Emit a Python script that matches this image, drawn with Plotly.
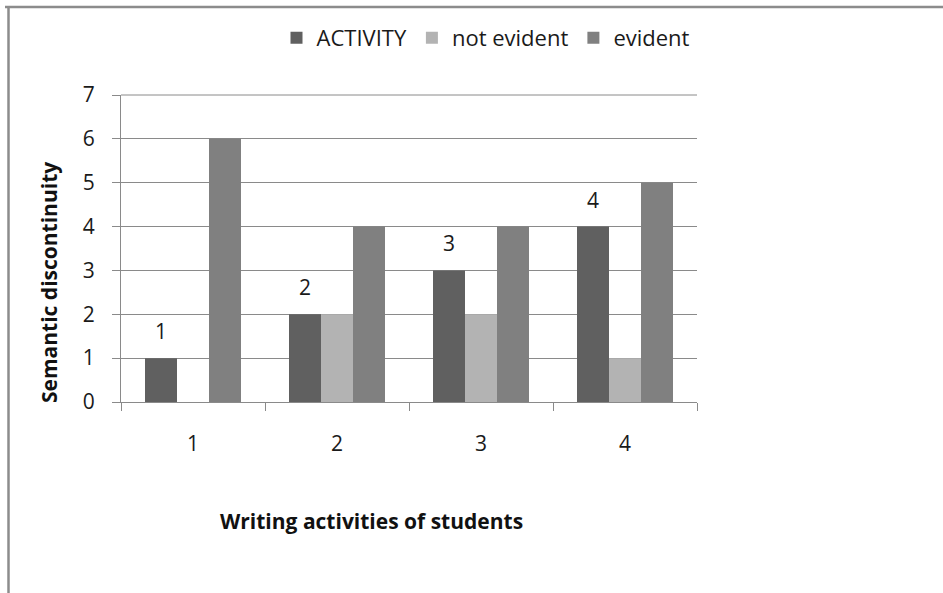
import plotly.graph_objects as go

# Writing activities and their semantic-discontinuity counts
categories = ["1", "2", "3", "4"]
activity = [1, 2, 3, 4]
not_evident = [0, 2, 2, 1]
evident = [6, 4, 4, 5]

series_names = ["ACTIVITY", "not evident", "evident"]
series_colors = ["#606060", "#b3b3b3", "#808080"]

W, H = 943, 593
L, R, T, B = 121, 246, 95, 191
plot_w = W - L - R
plot_h = H - T - B

FONT = "Open Sans, Lato, sans-serif"
GRID = "#8a8a8a"
TXT = "#1a1a1a"
Y_MAX = 7


def px_x(px):
    return (px - L) / plot_w


def px_y(py):
    return (H - B - py) / plot_h


fig = go.Figure()
for name, vals, col in zip(series_names, [activity, not_evident, evident], series_colors):
    fig.add_trace(go.Bar(x=categories, y=vals, name=name, marker=dict(color=col, line=dict(width=0))))

# value labels above the ACTIVITY bars
bargap = 1 / 3
bar_w = (1 - bargap) / 3
for i, v in enumerate(activity):
    fig.add_annotation(x=i - bar_w, y=v, xref="x", yref="y", text=str(v), showarrow=False,
                       xanchor="center", yanchor="middle", yshift=27,
                       font=dict(family=FONT, size=21, color=TXT))

# axis titles
fig.add_annotation(x=px_x(371), y=px_y(521), xref="paper", yref="paper", showarrow=False,
                   xanchor="center", yanchor="middle",
                   text="<b>Writing activities of students</b>",
                   font=dict(family=FONT, size=21, color="#111111"))
fig.add_annotation(x=px_x(49), y=px_y(283), xref="paper", yref="paper", showarrow=False,
                   xanchor="center", yanchor="middle",
                   textangle=-90, text="<b>Semantic discontinuity</b>",
                   font=dict(family=FONT, size=21, color="#111111"))

# gridline along the top of the value range (top edge of the plotting area)
fig.add_shape(type="line", xref="paper", yref="paper", x0=0, x1=1, y0=1, y1=1,
              line=dict(color=GRID, width=1), layer="below")

# chart frame (left and top edges)
fig.add_shape(type="line", xref="paper", yref="paper", x0=px_x(8.5), x1=px_x(8.5),
              y0=px_y(H + 5), y1=px_y(7), line=dict(color="#8c8c8c", width=2.5))
fig.add_shape(type="line", xref="paper", yref="paper", x0=px_x(5), x1=px_x(W + 5),
              y0=px_y(7), y1=px_y(7), line=dict(color="#8c8c8c", width=2.5))

fig.update_layout(
    width=W, height=H,
    margin=dict(l=L, r=R, t=T, b=B, autoexpand=False),
    paper_bgcolor="white", plot_bgcolor="white",
    barmode="group", bargap=bargap, bargroupgap=0,
    showlegend=True,
    legend=dict(orientation="h", x=px_x(486), y=px_y(38), xanchor="center", yanchor="middle",
                font=dict(family=FONT, size=22, color=TXT), itemwidth=30,
                tracegroupgap=0, bgcolor="rgba(0,0,0,0)"),
    font=dict(family=FONT, size=21, color=TXT),
)
fig.update_xaxes(type="category", showgrid=False, showline=True, linecolor=GRID, linewidth=1,
                 ticks="outside", tickson="boundaries", ticklen=8, tickcolor=GRID,
                 ticklabelstandoff=23, tickfont=dict(family=FONT, size=21, color=TXT))
fig.update_yaxes(range=[0, Y_MAX], tickvals=list(range(0, Y_MAX + 1)), showgrid=True,
                 gridcolor=GRID, gridwidth=1, showline=True, linecolor=GRID, linewidth=1,
                 zeroline=False, ticks="outside", ticklen=8, tickcolor=GRID,
                 ticklabelstandoff=13, tickfont=dict(family=FONT, size=21, color=TXT))

fig.write_html("out.html")
